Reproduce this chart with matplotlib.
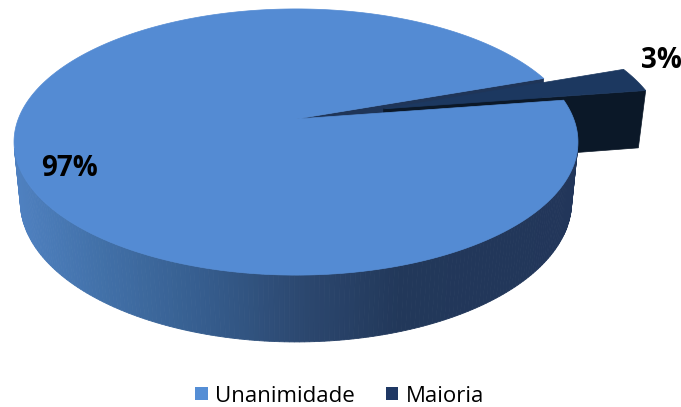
import numpy as np
import matplotlib.pyplot as plt
from matplotlib.patches import Polygon, Patch

labels = ['Unanimidade', 'Maioria']
values = [97, 3]
explode = [0.0, 0.33]

top_colors = ['#548bd3', '#1c3860']
wall_colors = ['#1f3558', '#0b1828']
legend_colors = ['#558ed5', '#1f3864']

# side shading of the big slice, light on the left to dark navy on the right
side_stop_x = [12, 100, 200, 300, 400, 580]
side_stop_c = ['#5082c2', '#4271a9', '#365e8f', '#2c4870', '#22385a', '#22365a']

# camera / layout
START = 19.4           # degrees, where the first slice begins (ccw)
PHI = np.radians(27.7)  # elevation
DIST = 5.12
FOCAL = 1422.0
HEIGHT = 0.245
CX, CY = 296, 119
W, H = 681, 407

plt.rcParams['font.family'] = ['Open Sans', 'DejaVu Sans']

cam = np.array([0.0, -DIST * np.cos(PHI), DIST * np.sin(PHI)])


def project(x, y, z):
    x, y, z = np.broadcast_arrays(np.asarray(x, float), np.asarray(y, float), np.asarray(z, float))
    depth = DIST + y * np.cos(PHI) - z * np.sin(PHI)
    sx = CX + FOCAL * x / depth
    sy = CY - FOCAL * (y * np.sin(PHI) + z * np.cos(PHI)) / depth
    return np.column_stack([sx.ravel(), sy.ravel()])


def facing(point, normal):
    return np.dot(cam - point, normal) > 0


def hex_rgb(c):
    c = c.lstrip('#')
    return np.array([int(c[i:i + 2], 16) / 255 for i in (0, 2, 4)])


stop_rgb = np.array([hex_rgb(c) for c in side_stop_c])


def side_color(sx):
    return tuple(np.interp(sx, side_stop_x, stop_rgb[:, k]) for k in range(3))


# slice angles
total = sum(values)
bounds = START + np.concatenate([[0], np.cumsum(values)]) * 360 / total
slices = []
for i in range(len(values)):
    a0, a1 = np.radians(bounds[i]), np.radians(bounds[i + 1])
    mid = (a0 + a1) / 2
    off = explode[i] * np.array([np.cos(mid), np.sin(mid)])
    slices.append((a0, a1, off))


def draw_walls(ax, i):
    a0, a1, off = slices[i]
    for a, n in ((a0, np.array([np.sin(a0), -np.cos(a0), 0])),
                 (a1, np.array([-np.sin(a1), np.cos(a1), 0]))):
        p = np.array([off[0] + 0.5 * np.cos(a), off[1] + 0.5 * np.sin(a), -HEIGHT / 2])
        if not facing(p, n):
            continue
        xs = off[0] + np.array([0, np.cos(a), np.cos(a), 0])
        ys = off[1] + np.array([0, np.sin(a), np.sin(a), 0])
        zs = np.array([0, 0, -HEIGHT, -HEIGHT])
        ax.add_patch(Polygon(project(xs, ys, zs), closed=True, facecolor=wall_colors[i],
                             edgecolor=wall_colors[i], lw=0.5))


def draw_side(ax, i, shaded):
    a0, a1, off = slices[i]
    ts = np.linspace(a0, a1, 400)
    top = project(off[0] + np.cos(ts), off[1] + np.sin(ts), 0)
    bot = project(off[0] + np.cos(ts), off[1] + np.sin(ts), -HEIGHT)
    for k in range(len(ts) - 1):
        t = (ts[k] + ts[k + 1]) / 2
        p = np.array([off[0] + np.cos(t), off[1] + np.sin(t), -HEIGHT / 2])
        if not facing(p, np.array([np.cos(t), np.sin(t), 0])):
            continue
        quad = np.array([top[k], top[k + 1], bot[k + 1], bot[k]])
        c = side_color(quad[:, 0].mean()) if shaded else wall_colors[i]
        ax.add_patch(Polygon(quad, closed=True, facecolor=c, edgecolor=c, lw=0.6))


def draw_top(ax, i):
    a0, a1, off = slices[i]
    ts = np.linspace(a0, a1, 400)
    xs = np.concatenate([[off[0]], off[0] + np.cos(ts)])
    ys = np.concatenate([[off[1]], off[1] + np.sin(ts)])
    ax.add_patch(Polygon(project(xs, ys, 0), closed=True, facecolor=top_colors[i],
                         edgecolor=top_colors[i], lw=0.5))


fig = plt.figure(figsize=(W / 100, H / 100), dpi=100)
ax = fig.add_axes([0, 0, 1, 1])
ax.set_xlim(0, W)
ax.set_ylim(H, 0)
ax.axis('off')

# back to front: walls inside the gap, the pulled-out slice, then the big slice
draw_walls(ax, 0)
draw_side(ax, 1, shaded=False)
draw_walls(ax, 1)
draw_top(ax, 1)
draw_side(ax, 0, shaded=True)
draw_top(ax, 0)

label_pos = [(69, 168), (661, 60)]
for v, (x, y) in zip(values, label_pos):
    ax.text(x, y, f'{v}%', ha='center', va='center', fontsize=20, fontweight='bold', color='black')

handles = [Patch(facecolor=c, linewidth=0) for c in legend_colors]
fig.legend(handles, labels, loc='center', bbox_to_anchor=(0.4993, 1 - 396 / H), ncol=2,
           frameon=False, fontsize=16, handlelength=0.55, handleheight=0.55,
           handletextpad=0.35, columnspacing=1.4, borderaxespad=0)

fig.savefig('out.png', dpi=100)
